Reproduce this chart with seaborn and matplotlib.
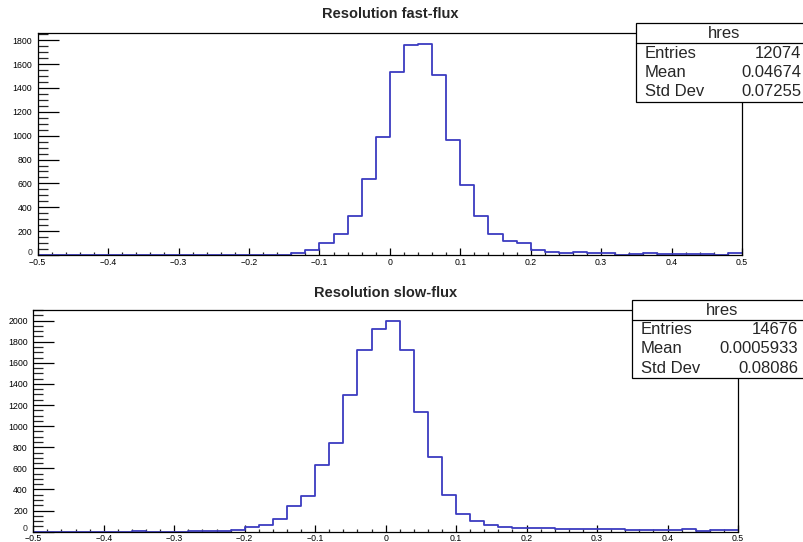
import numpy as np
import pandas as pd
import seaborn as sns
import matplotlib
matplotlib.use("Agg")
import matplotlib.pyplot as plt
from matplotlib.patches import Rectangle
from matplotlib.lines import Line2D
from matplotlib.ticker import MultipleLocator, FuncFormatter

# Histogram binning: 50 bins of width 0.02 on [-0.5, 0.5]
bin_width = 0.02
bin_range = (-0.5, 0.5)
bin_edges = np.round(np.linspace(-0.5, 0.5, 51), 2)
bin_centers = (bin_edges[:-1] + bin_edges[1:]) / 2

# Bin contents, fast-flux resolution
fast_counts = [0, 0, 0, 0, 0, 0, 0, 0, 0, 0,
               3, 0, 3, 0, 3, 3, 3, 3, 20, 45,
               97, 172, 327, 641, 989, 1535, 1762, 1770, 1510, 964,
               588, 328, 172, 120, 97, 45, 28, 20, 28, 20,
               20, 3, 11, 20, 11, 11, 11, 11, 3, 17]

# Bin contents, slow-flux resolution
slow_counts = [0, 0, 0, 0, 0, 0, 0, 3, 0, 0,
               0, 3, 3, 3, 18, 46, 66, 123, 246, 334,
               629, 840, 1294, 1722, 1921, 2000, 1722, 1133, 705, 352,
               170, 105, 68, 46, 32, 32, 32, 25, 25, 25,
               25, 25, 19, 19, 19, 19, 25, 6, 19, 19]

titles = ["Resolution fast-flux", "Resolution slow-flux"]
stat_labels = ["Entries", "Mean", "Std Dev"]
fast_stats = ["12074", "0.04674", "0.07255"]
slow_stats = ["14676", "0.0005933", "0.08086"]
hist_name = "hres"
x_ticks = [-0.5, -0.4, -0.3, -0.2, -0.1, 0.0, 0.1, 0.2, 0.3, 0.4, 0.5]
x_tick_labels = ["\u22120.5", "\u22120.4", "\u22120.3", "\u22120.2", "\u22120.1",
                 "0", "0.1", "0.2", "0.3", "0.4", "0.5"]

sns.set_style("white")
plt.rcParams["font.family"] = ["Liberation Sans", "DejaVu Sans"]

W, H = 804, 542
fig = plt.figure(figsize=(W / 100, H / 100), dpi=100)


def fx(px):
    return px / W


def fy(py):
    return 1 - py / H


# axes boxes in pixels: left, top, right, bottom
panels = [
    dict(box=(37.7, 33.3, 742.0, 255.0), counts=fast_counts, stats=fast_stats,
         title_y=13.5, stat_box=(636.0, 23.3, 812.0, 101.7), header=43.3,
         rows=(33.3, 53.3, 72.3, 91.7), lab_x=645.0, val_x=801.5),
    dict(box=(33.3, 310.0, 738.0, 531.7), counts=slow_counts, stats=slow_stats,
         title_y=293.0, stat_box=(632.3, 300.0, 812.0, 378.3), header=320.0,
         rows=(310.7, 329.3, 348.7, 368.3), lab_x=641.0, val_x=798.0),
]

line_color = "#3c3cc0"

# the zero label of the count axis is drawn separately, sitting on the corner
y_formatter = FuncFormatter(lambda v, pos: "" if abs(v) < 1e-9 else f"{v:.0f}")

for i, p in enumerate(panels):
    l, t, r, b = p["box"]
    ax = fig.add_axes([fx(l), fy(b), fx(r) - fx(l), fy(t) - fy(b)])
    df = pd.DataFrame({"x": bin_centers, "w": p["counts"]})
    sns.histplot(data=df, x="x", weights="w", binwidth=bin_width, binrange=bin_range,
                 element="step", fill=False, color=line_color, linewidth=1.3, ax=ax)
    ymax = 1.05 * max(p["counts"])
    ax.set_xlim(-0.5, 0.5)
    ax.set_ylim(0, ymax)
    ax.set_xlabel("")
    ax.set_ylabel("")
    for s in ax.spines.values():
        s.set_visible(True)
        s.set_color("black")
        s.set_linewidth(0.9)
    ax.set_xticks(x_ticks)
    ax.set_xticklabels(x_tick_labels)
    ax.xaxis.set_minor_locator(MultipleLocator(0.02))
    ax.yaxis.set_major_locator(MultipleLocator(200))
    ax.yaxis.set_minor_locator(MultipleLocator(50))
    ax.yaxis.set_major_formatter(y_formatter)
    ax.tick_params(axis="x", which="major", direction="in", length=5, width=0.9,
                   labelsize=6.3, pad=2, colors="black", bottom=True, top=False)
    ax.tick_params(axis="x", which="minor", direction="in", length=2.3, width=0.9,
                   bottom=True, top=False)
    ax.tick_params(axis="y", which="major", direction="in", length=15, width=0.9,
                   labelsize=6.3, pad=4, colors="black", left=True, right=False)
    ax.tick_params(axis="y", which="minor", direction="in", length=7.3, width=0.9,
                   left=True, right=False)
    ax.grid(False)
    ax.annotate("0", xy=(0, 0), xycoords="axes fraction", xytext=(-4, 0.3),
                textcoords="offset points", ha="right", va="baseline", fontsize=6.3)

    fig.text(fx((l + r) / 2), fy(p["title_y"]), titles[i], ha="center", va="center",
             fontsize=10.5, fontweight="bold")

    # statistics box
    sx0, sy0, sx1, sy1 = p["stat_box"]
    fig.add_artist(Rectangle((fx(sx0), fy(sy1)), fx(sx1) - fx(sx0), fy(sy0) - fy(sy1),
                             transform=fig.transFigure, facecolor="white",
                             edgecolor="black", linewidth=0.9, zorder=5))
    fig.add_artist(Line2D([fx(sx0), fx(sx1)], [fy(p["header"]), fy(p["header"])],
                          transform=fig.transFigure, color="black", linewidth=0.9,
                          zorder=6))
    rows = p["rows"]
    fig.text(fx((sx0 + sx1) / 2), fy(rows[0]), hist_name, ha="center", va="center",
             fontsize=12, zorder=7)
    for k in range(3):
        fig.text(fx(p["lab_x"]), fy(rows[k + 1]), stat_labels[k], ha="left",
                 va="center", fontsize=12, zorder=7)
        fig.text(fx(p["val_x"]), fy(rows[k + 1]), p["stats"][k], ha="right",
                 va="center", fontsize=12, zorder=7)

fig.savefig("out.png", dpi=100)
